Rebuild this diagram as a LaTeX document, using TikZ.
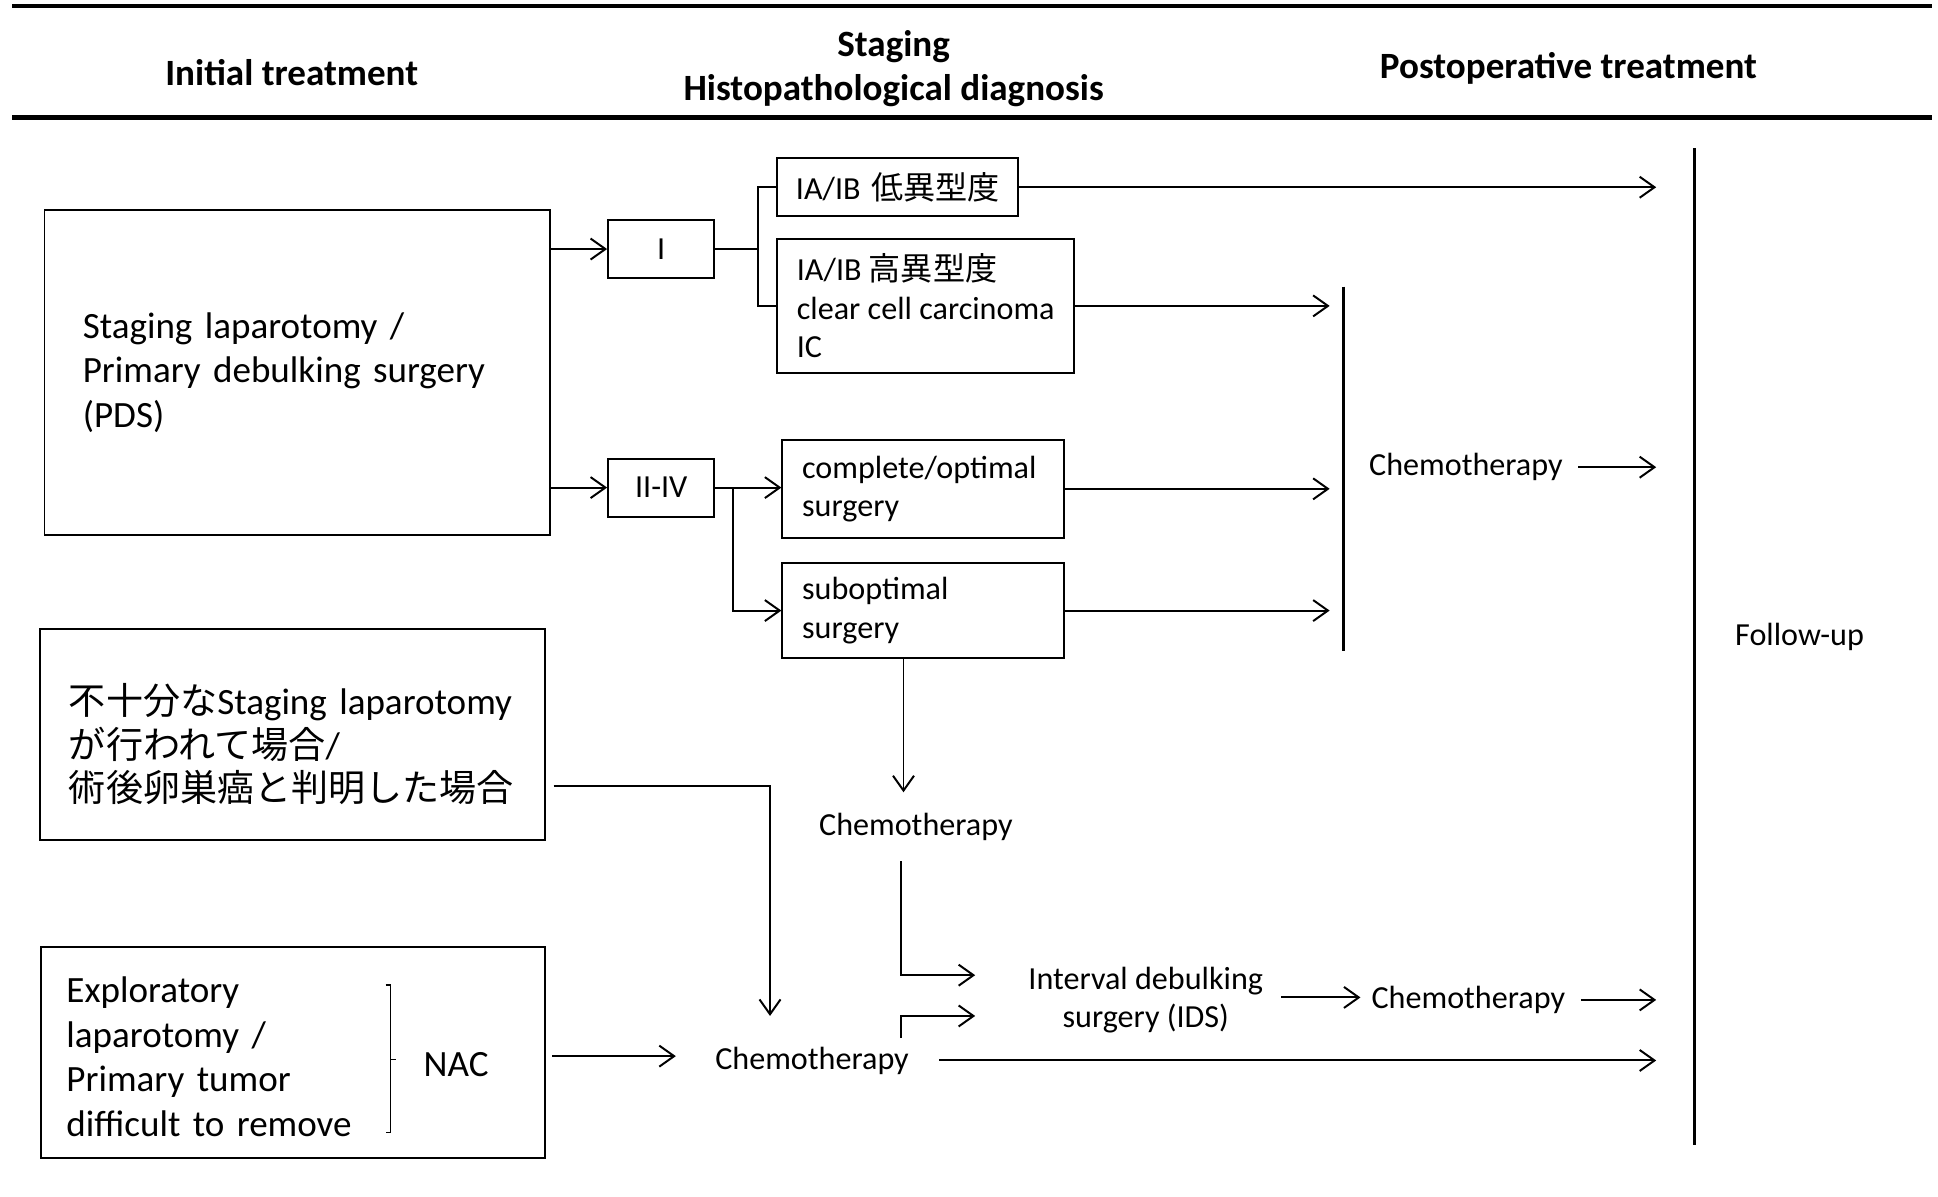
\documentclass[tikz,border=0pt]{standalone}
\usepackage{fontspec}
\setmainfont{Carlito}
\newfontfamily\jp{Noto Sans CJK JP}
\usetikzlibrary{arrows.meta}
\newcommand{\bodyfont}{\fontsize{26}{31}\selectfont}
\newcommand{\bigfont}{\fontsize{30}{36}\selectfont}

\begin{document}
\begin{tikzpicture}[x=1pt,y=-1pt,line width=1.6pt,
  arr/.style={-{Straight Barb[length=12pt,width=17pt]}},
  box/.style={draw,line width=1.6pt},
  head/.style={font=\bigfont\bfseries,align=center}]
\tikzstyle{every node}+=[inner sep=0pt,font=\bodyfont]
\useasboundingbox (0,0) rectangle (1568,968);
\draw[line width=3pt] (10,5) -- (1563,5);
\draw[line width=3.5pt] (10,95) -- (1563,95);
\node[head] (hinit) at (236,59) {Initial treatment};
\node[head] (hstage) at (723,55.5) {Staging\\Histopathological diagnosis};
\node[head] (hpost) at (1269,55) {Postoperative treatment};
\node[box,minimum width=409pt,minimum height=263pt,text width=347pt,align=left,font=\bigfont] (pds) at (240.5,301.5) {Staging laparotomy /\\Primary debulking surgery\\(PDS)};
\node[box,minimum width=409pt,minimum height=171pt] (ins) at (236.5,594.5) {};
\node[anchor=west,text width=363pt,align=left,font=\fontsize{30}{35.5}\selectfont] (insText) at (55,602) {{\jp 不十分な}Staging laparotomy\\{\jp が行われて場合}/\\{\jp 術後卵巣癌と判明した場合}};
\node[box,minimum width=408pt,minimum height=171pt] (nacbox) at (237,851.5) {};
\node[anchor=west,text width=250pt,align=left,font=\bigfont] (nacText) at (53,855) {Exploratory\\laparotomy /\\Primary tumor\\difficult to remove};
\node[font=\bigfont] (nac) at (369,861) {NAC};
\draw[line width=1pt] (312,797) -- (316,797) -- (316,916) -- (312,916) (316,857) -- (320,857);
\node[box,minimum width=86pt,minimum height=47pt] (stI) at (535,201.5) {I};
\node[box,minimum width=86pt,minimum height=47pt] (stII) at (535,394.5) {II-IV};
\node[box,minimum width=195pt,minimum height=47pt,text width=165pt,align=left] (low) at (726.5,151.5) {IA/IB {\jp 低異型度}};
\node[box,minimum width=240pt,minimum height=109pt,align=left] (high) at (749,247.5) {IA/IB {\jp 高異型度}\\clear cell carcinoma\\IC};
\node[box,minimum width=228pt,minimum height=79pt,text width=196pt,align=left] (comp) at (747,395.5) {complete/optimal\\surgery};
\node[box,minimum width=228pt,minimum height=77pt,text width=196pt,align=left] (sub) at (747,494) {suboptimal\\surgery};
\node (chemoA) at (1186,378) {Chemotherapy};
\node (follow) at (1456,515) {Follow-up};
\node (chemoB) at (741,669) {Chemotherapy};
\node (chemoC) at (657,858) {Chemotherapy};
\node[align=center] (ids) at (927,809) {Interval debulking\\surgery (IDS)};
\node (chemoD) at (1188,809) {Chemotherapy};
\coordinate (fuX) at (1340,0);
\coordinate (barT) at (1087,232);
\coordinate (barB) at (1087,527);
\coordinate (fuT) at (1371,120);
\coordinate (fuB) at (1371,926);
\coordinate (brI) at (613,201.5);
\coordinate (brII) at (593,394.5);
\coordinate (chemoBIn) at (731,641);
\coordinate (chemoBOut) at (729,697);
\coordinate (chemoCOut) at (729,840);
\coordinate (insOut) at (448,636);
\coordinate (nacIn) at (623,822);
\coordinate (idsA) at (789,789);
\coordinate (idsB) at (789,822);
\draw[arr] (pds.east |- stI) -- (stI.west);
\draw[arr] (pds.east |- stII) -- (stII.west);
\draw (stI.east) -- (brI);
\draw (low.west) -| (brI) |- (high.west);
\draw[arr] (stII.east) -- (comp.west |- stII);
\draw[arr] (brII) |- (sub.west);
\draw[arr] (low.east) -- (low.east -| fuX);
\draw[arr] (high.east) -- ++(206,0);
\draw[arr] (comp.east) -- ++(214,0);
\draw[arr] (sub.east) -- ++(214,0);
\draw[line width=2.4pt] (barT) -- (barB);
\draw[line width=2.4pt] (fuT) -- (fuB);
\draw[arr] (chemoA.east) ++(12,0) -- (chemoA.east -| fuX);
\draw[arr] (sub.south -| chemoBIn) -- (chemoBIn);
\draw[arr] (chemoBOut) |- (idsA);
\draw[arr] (insOut) -| (nacIn);
\draw[arr] (nacbox.east) ++(5,3) -- ++(100,0);
\draw[arr] (chemoCOut) |- (idsB);
\draw[arr] (ids.east) ++(14,-2) -- ++(64,0);
\draw[arr] (chemoD.east) ++(12,0) -- (chemoD.east -| fuX);
\draw[arr] (chemoC.east) ++(24,0) -- (chemoC.east -| fuX);
\end{tikzpicture}
\end{document}
